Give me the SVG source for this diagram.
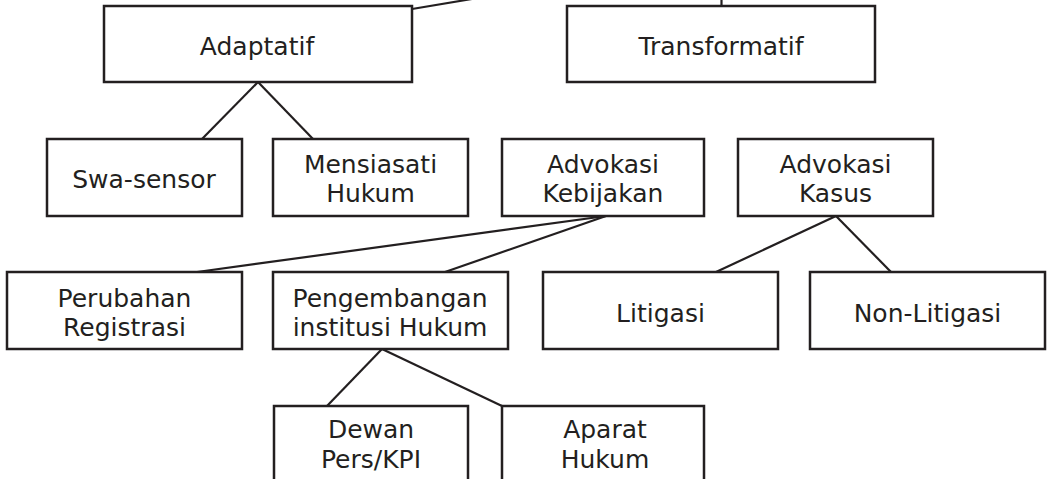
<svg xmlns="http://www.w3.org/2000/svg" width="1058" height="479" viewBox="0 0 1058 479">
<style>
.box{fill:#fff;stroke:#231f20;stroke-width:2.5}
.lbl{font-family:"DejaVu Sans","Liberation Sans",sans-serif;font-size:25px;fill:#231f20;text-anchor:middle}
.con{stroke:#231f20;stroke-width:2.2;fill:none}
</style>
<rect width="1058" height="479" fill="#fff"/>
<g id="connectors">
<line class="con" x1="412" y1="9" x2="472" y2="-1"/>
<line class="con" x1="721.5" y1="-1" x2="721.5" y2="6"/>
<line class="con" x1="258" y1="82" x2="202" y2="139"/>
<line class="con" x1="258" y1="82" x2="313" y2="139"/>
<line class="con" x1="606" y1="216" x2="197" y2="272"/>
<line class="con" x1="606" y1="216" x2="445" y2="272"/>
<line class="con" x1="836" y1="216" x2="716" y2="272"/>
<line class="con" x1="836" y1="216" x2="891" y2="272"/>
<line class="con" x1="382" y1="349" x2="327" y2="406"/>
<line class="con" x1="382" y1="349" x2="502" y2="406"/>
</g>
<g id="adaptatif"><rect class="box" x="104" y="6" width="308" height="76"/><text class="lbl" x="257" y="55">Adaptatif</text></g>
<g id="transformatif"><rect class="box" x="567" y="6" width="308" height="76"/><text class="lbl" x="721" y="55">Transformatif</text></g>
<g id="swa-sensor"><rect class="box" x="47" y="139" width="195" height="77"/><text class="lbl" x="144" y="188">Swa-sensor</text></g>
<g id="mensiasati"><rect class="box" x="273" y="139" width="195" height="77"/><text class="lbl" x="370.5" y="173">Mensiasati</text><text class="lbl" x="370.5" y="202">Hukum</text></g>
<g id="advokasi-kebijakan"><rect class="box" x="502" y="139" width="202" height="77"/><text class="lbl" x="603" y="173">Advokasi</text><text class="lbl" x="603" y="202">Kebijakan</text></g>
<g id="advokasi-kasus"><rect class="box" x="738" y="139" width="195" height="77"/><text class="lbl" x="835.5" y="173">Advokasi</text><text class="lbl" x="835.5" y="202">Kasus</text></g>
<g id="perubahan"><rect class="box" x="7" y="272" width="235" height="77"/><text class="lbl" x="124.5" y="307">Perubahan</text><text class="lbl" x="124.5" y="336">Registrasi</text></g>
<g id="pengembangan"><rect class="box" x="273" y="272" width="235" height="77"/><text class="lbl" x="390" y="307">Pengembangan</text><text class="lbl" x="390" y="336">institusi Hukum</text></g>
<g id="litigasi"><rect class="box" x="543" y="272" width="235" height="77"/><text class="lbl" x="660.5" y="322">Litigasi</text></g>
<g id="non-litigasi"><rect class="box" x="810" y="272" width="235" height="77"/><text class="lbl" x="927.5" y="322">Non-Litigasi</text></g>
<g id="dewan"><rect class="box" x="274" y="406" width="194" height="100"/><text class="lbl" x="371" y="438">Dewan</text><text class="lbl" x="371" y="468">Pers/KPI</text></g>
<g id="aparat"><rect class="box" x="502" y="406" width="202" height="100"/><text class="lbl" x="605" y="438">Aparat</text><text class="lbl" x="605" y="468">Hukum</text></g>
</svg>
